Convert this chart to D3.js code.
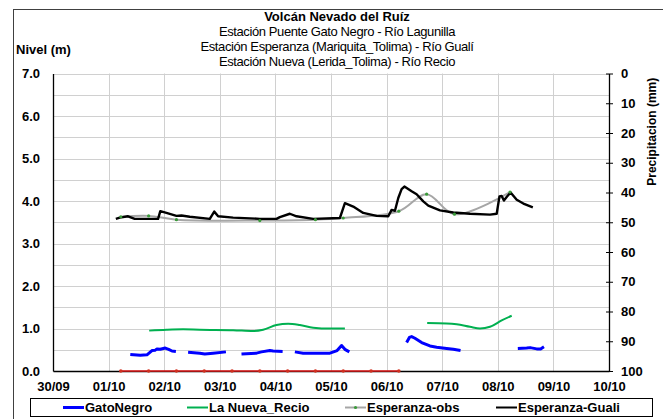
<!DOCTYPE html>
<html>
<head>
<meta charset="utf-8">
<script src="https://cdn.jsdelivr.net/npm/d3@7"></script>
<style>
    body { margin: 0; background: #fff; }
    svg { font-family: "Liberation Sans", Arial, sans-serif; }
</style>
</head>
<body>
<div id="chart"></div>
<script>
// tiempo en dias contados desde 30/09
const fechas = ["30/09", "01/10", "02/10", "03/10", "04/10", "05/10", "06/10", "07/10", "08/10", "09/10", "10/10"];
const nivelTicks = [0, 1, 2, 3, 4, 5, 6, 7];
const precipTicks = [0, 10, 20, 30, 40, 50, 60, 70, 80, 90, 100];

const titulos = [
    "Volcán Nevado del Ruíz",
    "Estación Puente Gato Negro - Río Lagunilla",
    "Estación Esperanza (Mariquita_Tolima) - Río Gualí",
    "Estación Nueva (Lerida_Tolima) - Río Recio"
];

// [dia, nivel]; null = hueco en el registro
const gatoNegro = [
    [1.39, 0.39], [1.57, 0.37], [1.69, 0.38], [1.78, 0.48], [1.84, 0.49], [1.87, 0.52], [1.93, 0.51],
    [2.02, 0.54], [2.08, 0.51], [2.14, 0.47], [2.21, 0.46], null,
    [2.43, 0.44], [2.64, 0.42], [2.73, 0.40], [2.88, 0.42], [3.11, 0.45], null,
    [3.39, 0.40], [3.66, 0.42], [3.75, 0.45], [3.90, 0.48], [3.96, 0.47], [4.13, 0.46], null,
    [4.35, 0.45], [4.50, 0.42], [4.98, 0.42], [5.11, 0.48], [5.19, 0.60], [5.25, 0.51], [5.33, 0.45], null,
    [6.36, 0.67], [6.41, 0.79], [6.45, 0.81], [6.51, 0.77], [6.63, 0.67], [6.78, 0.59], [6.90, 0.56],
    [7.08, 0.53], [7.20, 0.51], [7.33, 0.48], null,
    [8.36, 0.53], [8.52, 0.54], [8.58, 0.55], [8.70, 0.52], [8.77, 0.52], [8.83, 0.57]
];

const laNuevaRecio = [
    [1.73, 0.95], [2.04, 0.97], [2.34, 0.98], [2.64, 0.97], [3.24, 0.96], [3.60, 0.94], [3.78, 0.97],
    [4.02, 1.08], [4.23, 1.11], [4.44, 1.08], [4.68, 1.02], [4.98, 1.00], [5.25, 1.00], null,
    [6.73, 1.13], [7.08, 1.12], [7.26, 1.10], [7.50, 1.04], [7.68, 1.00], [7.86, 1.04], [8.07, 1.19], [8.25, 1.30]
];

const esperanzaObs = [
    [1.22, 3.63], [1.72, 3.65], [2.22, 3.56], [3.72, 3.54], [4.72, 3.56], [5.22, 3.60],
    [6.22, 3.76], [6.72, 4.16], [7.22, 3.69], [8.22, 4.21]
];

const esperanzaGuali = [
    [1.13, 3.58], [1.20, 3.61], [1.35, 3.64], [1.47, 3.58], [1.89, 3.58], [1.93, 3.76], [2.04, 3.72],
    [2.22, 3.65], [2.31, 3.66], [2.46, 3.63], [2.82, 3.58], [2.90, 3.75], [2.97, 3.64], [3.24, 3.61],
    [3.72, 3.58], [4.02, 3.58], [4.08, 3.62], [4.26, 3.70], [4.38, 3.64], [4.68, 3.58], [5.16, 3.60],
    [5.25, 3.95], [5.40, 3.87], [5.58, 3.72], [5.82, 3.65], [6.03, 3.64], [6.09, 3.79], [6.15, 3.77],
    [6.21, 4.07], [6.27, 4.28], [6.32, 4.34], [6.45, 4.23], [6.54, 4.16], [6.66, 3.99], [6.75, 3.89],
    [6.96, 3.78], [7.20, 3.73], [7.50, 3.70], [7.86, 3.68], [7.98, 3.70], [8.03, 4.11], [8.07, 4.12],
    [8.11, 4.01], [8.17, 4.11], [8.23, 4.20], [8.34, 4.03], [8.46, 3.94], [8.63, 3.85]
];

// serie sin leyenda sobre el eje (valores en cero)
const lluvia = [
    [1.22, 0], [1.72, 0], [2.22, 0], [2.72, 0], [3.22, 0], [3.72, 0],
    [4.22, 0], [4.72, 0], [5.22, 0], [5.72, 0], [6.22, 0]
];

const leyenda = [
    { nombre: "GatoNegro", color: "#0000ff", ancho: 3, x: 63 },
    { nombre: "La Nueva_Recio", color: "#00b050", ancho: 2, x: 187 },
    { nombre: "Esperanza-obs", color: "#a6a6a6", ancho: 2, x: 345, punto: true },
    { nombre: "Esperanza-Guali", color: "#000000", ancho: 2, x: 496 }
];

const W = 663, H = 419;
const plot = { left: 53, right: 609, top: 73.5, bottom: 371 };

const svg = d3.select("#chart").append("svg")
    .attr("width", W)
    .attr("height", H);

// marco exterior
svg.append("rect")
    .attr("x", 13.5).attr("y", 9.5)
    .attr("width", 700).attr("height", 500)
    .attr("fill", "none")
    .attr("stroke", "#404040");

const x = d3.scaleLinear().domain([0, 10]).range([plot.left, plot.right]);
const y = d3.scaleLinear().domain([0, 7]).range([plot.bottom, plot.top]);
const yR = d3.scaleLinear().domain([0, 100]).range([plot.top, plot.bottom]);

// rejilla
const grid = svg.append("g").attr("stroke", "#d0d0d0").attr("stroke-width", 1);
grid.selectAll("line.h")
    .data(d3.range(1, 15).map(i => i * 0.5))
    .enter().append("line")
    .attr("x1", plot.left).attr("x2", plot.right)
    .attr("y1", d => Math.round(y(d)) + 0.5).attr("y2", d => Math.round(y(d)) + 0.5);
grid.selectAll("line.v")
    .data(d3.range(1, 10))
    .enter().append("line")
    .attr("y1", plot.top).attr("y2", plot.bottom)
    .attr("x1", d => Math.round(x(d)) + 0.5).attr("x2", d => Math.round(x(d)) + 0.5);

// ejes
const ejeX = svg.append("g")
    .attr("transform", `translate(0,${plot.bottom})`)
    .call(d3.axisBottom(x).tickValues(d3.range(0, 11)).tickFormat((d, i) => fechas[i]).tickSize(0).tickPadding(11));

const ejeY = svg.append("g")
    .attr("transform", `translate(${plot.left},0)`)
    .call(d3.axisLeft(y).tickValues(nivelTicks).tickFormat(d3.format(".1f")).tickSize(0).tickPadding(13));

const ejeYR = svg.append("g")
    .attr("transform", `translate(${plot.right},0)`)
    .call(d3.axisRight(yR).tickValues(precipTicks).tickSizeInner(4).tickSizeOuter(0).tickPadding(8));
ejeYR.selectAll(".tick line").attr("x1", -3);

[ejeX, ejeY, ejeYR].forEach(g => {
    g.select(".domain").attr("stroke", "#000").attr("stroke-width", 1.3);
    g.selectAll(".tick line").attr("stroke", "#000");
    g.selectAll("text")
        .attr("fill", "#000")
        .style("font-size", "13px")
        .style("font-weight", "bold")
        .style("font-family", "'Liberation Sans', Arial, sans-serif");
});

// titulos
svg.append("g").selectAll("text")
    .data(titulos)
    .enter().append("text")
    .attr("x", 337)
    .attr("y", (d, i) => 21 + i * 15)
    .attr("text-anchor", "middle")
    .style("font-size", "13px")
    .style("font-weight", (d, i) => i === 0 ? "bold" : "normal")
    .style("letter-spacing", (d, i) => i === 0 ? "0px" : "-0.4px")
    .text(d => d);

svg.append("text")
    .attr("x", 16).attr("y", 54)
    .style("font-size", "13px")
    .style("font-weight", "bold")
    .text("Nivel (m)");

svg.append("text")
    .attr("transform", `translate(656,${(plot.top + 190) / 2}) rotate(-90)`)
    .attr("text-anchor", "middle")
    .style("font-size", "12px")
    .style("font-weight", "bold")
    .text("Precipitacion (mm)");

// series
const linea = d3.line()
    .defined(d => d !== null)
    .x(d => x(d[0]))
    .y(d => y(d[1]));

const series = svg.append("g").attr("fill", "none");

series.append("path")
    .datum(lluvia)
    .attr("d", linea)
    .attr("stroke", "#e01b1b")
    .attr("stroke-width", 1.5);
svg.append("g").selectAll("circle")
    .data(lluvia)
    .enter().append("circle")
    .attr("cx", d => x(d[0])).attr("cy", d => y(d[1]))
    .attr("r", 1.8)
    .attr("fill", "#d03020");

series.append("path")
    .datum(laNuevaRecio)
    .attr("d", linea.curve(d3.curveMonotoneX))
    .attr("stroke", "#00b050")
    .attr("stroke-width", 2);

series.append("path")
    .datum(gatoNegro)
    .attr("d", linea.curve(d3.curveLinear))
    .attr("stroke", "#0000ff")
    .attr("stroke-width", 3)
    .attr("stroke-linejoin", "round");

series.append("path")
    .datum(esperanzaObs)
    .attr("d", linea.curve(d3.curveCatmullRom))
    .attr("stroke", "#a6a6a6")
    .attr("stroke-width", 2);
svg.append("g").selectAll("circle")
    .data(esperanzaObs)
    .enter().append("circle")
    .attr("cx", d => x(d[0])).attr("cy", d => y(d[1]))
    .attr("r", 1.6)
    .attr("fill", "#3a9a3a");

series.append("path")
    .datum(esperanzaGuali)
    .attr("d", linea.curve(d3.curveLinear))
    .attr("stroke", "#000")
    .attr("stroke-width", 2.4)
    .attr("stroke-linejoin", "round");

// leyenda
const leg = svg.append("g");
leg.append("rect")
    .attr("x", 30.5).attr("y", 398.5)
    .attr("width", 622).attr("height", 18)
    .attr("fill", "#fff")
    .attr("stroke", "#000");

const item = leg.selectAll("g.item")
    .data(leyenda)
    .enter().append("g")
    .attr("class", "item");
item.append("line")
    .attr("x1", d => d.x).attr("x2", d => d.x + 21)
    .attr("y1", 407.5).attr("y2", 407.5)
    .attr("stroke", d => d.color)
    .attr("stroke-width", d => d.ancho);
item.filter(d => d.punto).append("circle")
    .attr("cx", d => d.x + 10.5).attr("cy", 407.5)
    .attr("r", 1.6)
    .attr("fill", "#3a9a3a");
item.append("text")
    .attr("x", d => d.x + 22)
    .attr("y", 412)
    .style("font-size", "13px")
    .style("font-weight", "bold")
    .text(d => d.nombre);
</script>
</body>
</html>
